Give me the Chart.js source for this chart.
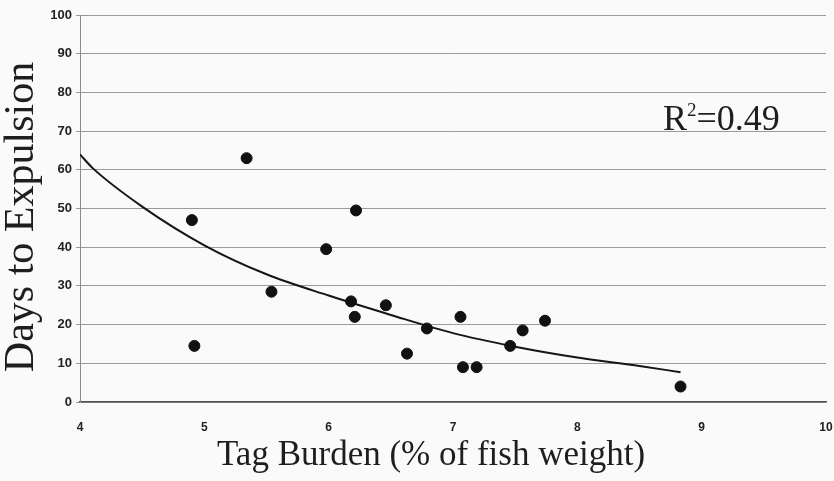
<!DOCTYPE html>
<html>
<head>
<meta charset="utf-8">
<script src="https://cdn.jsdelivr.net/npm/chart.js@4.4.1/dist/chart.umd.min.js"></script>
<style>
  html, body { margin: 0; padding: 0; background: #fafafa; }
  #wrap { width: 834px; height: 481px; position: relative; }
</style>
</head>
<body>
<div id="wrap"><canvas id="scatterChart"></canvas></div>
<script>
// Tag burden (% of fish weight) vs days to expulsion
var burden = [4.90, 4.92, 5.34, 5.54, 5.98, 6.18, 6.21, 6.22, 6.46, 6.63, 6.79, 7.06, 7.08, 7.19, 7.46, 7.56, 7.74, 8.83];
var days   = [47, 14.5, 63, 28.5, 39.5, 26, 22, 49.5, 25, 12.5, 19, 22, 9, 9, 14.5, 18.5, 21, 4];

// fitted curve, points
var trendX = [4.0, 4.1, 4.5, 5.0, 5.5, 6.0, 6.5, 7.0, 7.5, 8.0, 8.5, 8.83];
var trendY = [64, 60.5, 50.5, 40.5, 33, 27.5, 22.5, 17.8, 14.3, 11.5, 9.3, 7.7];

var xTicks = [4, 5, 6, 7, 8, 9, 10];
var yTicks = [0, 10, 20, 30, 40, 50, 60, 70, 80, 90, 100];

var xTitle = 'Tag Burden (% of fish weight)';
var yTitle = 'Days to Expulsion';
var rSquared = '0.49';

function toPoints(xs, ys) {
    return xs.map(function (x, i) { return { x: x, y: ys[i] }; });
}

// background, axis titles and the R² note
var annotate = {
    id: 'annotate',
    beforeDraw: function (chart) {
        var c = chart.ctx;
        c.save();
        c.fillStyle = '#fafafa';
        c.fillRect(0, 0, chart.width, chart.height);
        c.restore();
    },
    afterDraw: function (chart) {
        var c = chart.ctx;
        c.save();
        c.fillStyle = '#1e1e1e';
        c.textBaseline = 'alphabetic';

        c.font = '35px "Liberation Serif", "Times New Roman", serif';
        c.textAlign = 'center';
        c.fillText(xTitle, 431, 465);

        c.save();
        c.translate(33, 217);
        c.rotate(-Math.PI / 2);
        c.font = '42px "Liberation Serif", "Times New Roman", serif';
        c.fillText(yTitle, 0, 0);
        c.restore();

        c.textAlign = 'left';
        c.font = '36px "Liberation Serif", "Times New Roman", serif';
        var x = 663;
        c.fillText('R', x, 130);
        x += c.measureText('R').width;
        c.font = '19px "Liberation Serif", "Times New Roman", serif';
        c.fillText('2', x, 116);
        x += c.measureText('2').width;
        c.font = '36px "Liberation Serif", "Times New Roman", serif';
        c.fillText('=' + rSquared, x, 130);
        c.restore();
    }
};

var ctx = document.getElementById('scatterChart').getContext('2d');
var scatterChart = new Chart(ctx, {
    type: 'scatter',
    data: {
        datasets: [{
            label: 'Fish',
            data: toPoints(burden, days),
            backgroundColor: '#111',
            borderColor: '#111',
            pointRadius: 5.5,
            pointHoverRadius: 5.5
        }, {
            label: 'Trend',
            data: toPoints(trendX, trendY),
            showLine: true,
            borderColor: '#151515',
            borderWidth: 2,
            pointRadius: 0,
            tension: 0.4,
            cubicInterpolationMode: 'monotone'
        }]
    },
    options: {
        responsive: true,
        maintainAspectRatio: false,
        animation: false,
        layout: { padding: { top: 15, right: 8, left: 0, bottom: 0 } },
        plugins: {
            legend: { display: false },
            tooltip: { enabled: false }
        },
        scales: {
            x: {
                type: 'linear',
                min: 4,
                max: 10,
                afterBuildTicks: function (axis) {
                    axis.ticks = xTicks.map(function (v) { return { value: v }; });
                },
                afterFit: function (axis) {
                    axis.height = 79;
                    axis.paddingLeft = 0;
                    axis.paddingRight = 0;
                },
                grid: { display: false },
                border: { display: true, color: '#555', width: 1.5 },
                ticks: {
                    padding: 10,
                    color: '#222',
                    font: { family: '"Liberation Sans", Arial, sans-serif', size: 12, weight: 'bold' }
                }
            },
            y: {
                min: 0,
                max: 100,
                afterBuildTicks: function (axis) {
                    axis.ticks = yTicks.map(function (v) { return { value: v }; });
                },
                afterFit: function (axis) {
                    axis.width = 80;
                    axis.paddingTop = 0;
                    axis.paddingBottom = 0;
                },
                grid: { color: '#9a9a9a', lineWidth: 1, tickLength: 4 },
                border: { display: true, color: '#8a8a8a', width: 1 },
                ticks: {
                    padding: 4,
                    color: '#222',
                    font: { family: '"Liberation Sans", Arial, sans-serif', size: 13, weight: 'bold' }
                }
            }
        }
    },
    plugins: [annotate]
});
</script>
</body>
</html>
